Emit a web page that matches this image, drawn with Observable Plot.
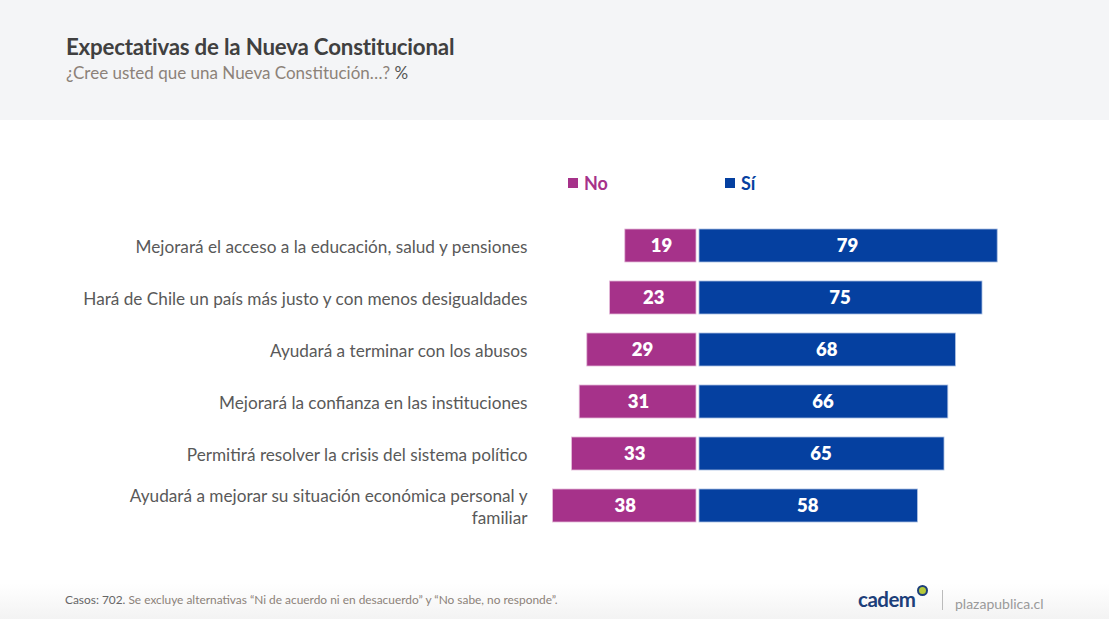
<!DOCTYPE html>
<html>
<head>
<meta charset="utf-8">
<script src="https://cdn.jsdelivr.net/npm/d3@7"></script>
<script src="https://cdn.jsdelivr.net/npm/@observablehq/plot@0.6"></script>
<style>
  html, body { margin: 0; padding: 0; background: #ffffff; }
  #page { position: relative; width: 1109px; height: 619px; overflow: hidden; font-family: Lato, "Open Sans", sans-serif; }
  #header { position: absolute; left: 0; top: 0; width: 1109px; height: 120px; background: #f4f5f7; }
  #title { position: absolute; left: 66px; top: 33px; font-size: 22.3px; font-weight: 700; color: #404040; letter-spacing: -0.2px; }
  #subtitle { position: absolute; left: 66px; top: 62px; font-size: 17px; color: #8c8279; }
  #subtitle span { color: #555; }
  #chart { position: absolute; left: 0; top: 120px; }
  .leg { position: absolute; top: 172px; font-size: 18px; font-weight: 700; display: flex; align-items: center; }
  .leg i { display: inline-block; width: 10px; height: 10px; margin-right: 6px; }
  #footer { position: absolute; left: 0; top: 560px; width: 1109px; height: 59px; background: linear-gradient(to bottom, #ffffff 0%, #ffffff 40%, #f3f3f3 100%); }
  #note { position: absolute; left: 65px; top: 32px; font-size: 11.9px; color: #8c8279; }
  #note b { font-weight: 400; color: #666; }
  #logo { position: absolute; left: 858px; top: 27px; font-size: 20.5px; font-weight: 700; color: #1d3f7a; letter-spacing: -0.5px; }
  #logo sup { display: inline-block; width: 7px; height: 7px; border: 2px solid #1d3f7a; border-radius: 50%; background: #b5c93a; vertical-align: top; margin-left: 1px; margin-top: -2px; }
  #divider { position: absolute; left: 942px; top: 30px; width: 1px; height: 20px; background: #bbb; }
  #site { position: absolute; left: 955px; top: 35px; font-size: 14px; color: #9a9a9a; }
</style>
</head>
<body>
<div id="page">
  <div id="header">
    <div id="title">Expectativas de la Nueva Constitucional</div>
    <div id="subtitle">¿Cree usted que una Nueva Constitución…? <span>%</span></div>
  </div>
  <div id="chart"></div>
  <div class="leg" style="left:568px;color:#a6328a"><i style="background:#a6328a"></i>No</div>
  <div class="leg" style="left:725px;color:#0540a0"><i style="background:#0540a0"></i>Sí</div>
  <div id="footer">
    <div id="note"><b>Casos: 702.</b> Se excluye alternativas “Ni de acuerdo ni en desacuerdo” y “No sabe, no responde”.</div>
    <div id="logo">cadem<sup></sup></div>
    <div id="divider"></div>
    <div id="site">plazapublica.cl</div>
  </div>
</div>
<script>
const categories = [
  "Mejorará el acceso a la educación, salud y pensiones",
  "Hará de Chile un país más justo y con menos desigualdades",
  "Ayudará a terminar con los abusos",
  "Mejorará la confianza en las instituciones",
  "Permitirá resolver la crisis del sistema político",
  "Ayudará a mejorar su situación económica personal y\nfamiliar"
];
const noValues = [19, 23, 29, 31, 33, 38];
const siValues = [79, 75, 68, 66, 65, 58];

const colorNo = "#a6328a";
const colorSi = "#0540a0";

const rows = categories.map((c, i) => ({cat: c, no: noValues[i], si: siValues[i]}));

const chart = Plot.plot({
  width: 1109,
  height: 440,
  marginTop: 90,
  marginBottom: 19,
  marginLeft: 526,
  marginRight: 32,
  x: {domain: [-45, 100], axis: null},
  y: {domain: categories, padding: 0.36, axis: null},
  style: {fontFamily: "Lato, 'Open Sans', sans-serif", background: "transparent"},
  marks: [
    Plot.barX(rows, {y: "cat", x1: d => -d.no, x2: 0, fill: colorNo, insetRight: 1, stroke: "#e3b8d8", strokeWidth: 0.8}),
    Plot.barX(rows, {y: "cat", x1: 0, x2: "si", fill: colorSi, insetLeft: 2, stroke: "#a9bde0", strokeWidth: 0.8}),
    Plot.text(rows, {y: "cat", x: d => -d.no / 2, text: d => String(d.no), fill: "white", fontSize: 18.5, fontWeight: 800}),
    Plot.text(rows, {y: "cat", x: d => d.si / 2, text: d => String(d.si), fill: "white", fontSize: 18.5, fontWeight: 800}),
    Plot.text(rows, {y: "cat", text: "cat", frameAnchor: "left", textAnchor: "end", dx: 1, fill: "#595959", fontSize: 17.2, lineHeight: 1.25})
  ]
});
document.getElementById("chart").appendChild(chart);
</script>
</body>
</html>
